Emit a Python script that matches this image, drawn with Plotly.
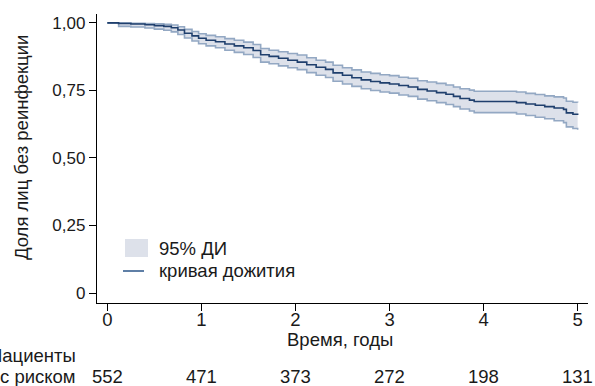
import plotly.graph_objects as go

# ---- data ----
times = [0, 0.12, 0.25, 0.4, 0.5, 0.6, 0.68, 0.75, 0.82, 0.9, 0.97, 1.05, 1.15, 1.25, 1.35,
         1.45, 1.55, 1.63, 1.72, 1.82, 1.92, 2.02, 2.12, 2.22, 2.32, 2.4, 2.5, 2.6, 2.7, 2.8,
         2.9, 3.0, 3.1, 3.2, 3.3, 3.4, 3.5, 3.6, 3.68, 3.75, 3.85, 3.9, 4.35, 4.45, 4.55,
         4.65, 4.75, 4.85, 4.88, 4.95, 5.0]
surv = [1.0, 0.998, 0.996, 0.993, 0.99, 0.987, 0.982, 0.974, 0.962, 0.952, 0.943, 0.936, 0.93,
        0.922, 0.915, 0.908, 0.898, 0.882, 0.876, 0.869, 0.862, 0.855, 0.845, 0.836, 0.828,
        0.815, 0.806, 0.797, 0.789, 0.783, 0.778, 0.774, 0.768, 0.763, 0.754, 0.748, 0.742,
        0.736, 0.728, 0.72, 0.714, 0.709, 0.705, 0.70, 0.695, 0.69, 0.685, 0.68, 0.667,
        0.662, 0.659]
ci_lower = [1.0, 0.987, 0.985, 0.981, 0.977, 0.973, 0.967, 0.957, 0.944, 0.933, 0.923, 0.915,
            0.908, 0.899, 0.891, 0.883, 0.872, 0.855, 0.849, 0.841, 0.834, 0.827, 0.816, 0.806,
            0.798, 0.784, 0.774, 0.765, 0.756, 0.75, 0.744, 0.74, 0.733, 0.728, 0.718, 0.712,
            0.705, 0.698, 0.69, 0.681, 0.674, 0.668, 0.663, 0.657, 0.651, 0.645, 0.638, 0.631,
            0.615, 0.609, 0.604]
ci_upper = [1.0, 1.0, 0.999, 0.998, 0.997, 0.995, 0.992, 0.986, 0.976, 0.968, 0.96, 0.954,
            0.949, 0.942, 0.936, 0.929, 0.92, 0.905, 0.899, 0.893, 0.887, 0.881, 0.871, 0.862,
            0.855, 0.843, 0.834, 0.826, 0.818, 0.813, 0.808, 0.805, 0.799, 0.795, 0.786, 0.781,
            0.776, 0.77, 0.763, 0.756, 0.751, 0.747, 0.744, 0.739, 0.735, 0.73, 0.726, 0.722,
            0.71, 0.706, 0.705]

x_ticks = [0, 1, 2, 3, 4, 5]
y_tickvals = [0, 0.25, 0.5, 0.75, 1.0]
y_ticktext = ["0", "0,25", "0,50", "0,75", "1,00"]
at_risk = [552, 471, 373, 272, 198, 131]
risk_title = ["Пациенты", "с риском"]
legend_labels = ["95% ДИ", "кривая дожития"]

# ---- layout geometry (pixels) ----
W, H = 595, 386
ML, MR, MT, MB = 97, 7, 14, 83
PW, PH = W - ML - MR, H - MT - MB

def px(x):
    return (x - ML) / PW

def py(y):
    return (H - MB - y) / PH

FONT = "Liberation Sans, Arial, sans-serif"
FS = 17
FS2 = 18.5
TXT = "#1a1a1a"
FILL = "#dde1ea"
EDGE = "#93a8c3"
MAIN = "#1f3f6d"

fig = go.Figure()
fig.add_trace(go.Scatter(x=times, y=ci_upper, mode="lines", line=dict(color=EDGE, width=1.6, shape="hv"),
                         showlegend=False, hoverinfo="skip"))
fig.add_trace(go.Scatter(x=times, y=ci_lower, mode="lines", line=dict(color=EDGE, width=1.6, shape="hv"),
                         fill="tonexty", fillcolor=FILL, showlegend=False, hoverinfo="skip"))
fig.add_trace(go.Scatter(x=times, y=surv, mode="lines", line=dict(color=MAIN, width=1.6, shape="hv"),
                         showlegend=False))

def txt(x, y, s, anchor, angle=0, xref="paper"):
    return dict(x=x, xref=xref, y=y, yref="paper", text=s, showarrow=False, textangle=angle,
                xanchor=anchor, yanchor="middle", font=dict(size=FS2, color=TXT, family=FONT))

annotations = []
for t, n in zip(x_ticks, at_risk):
    annotations.append(txt(t, py(376), str(n), "center", xref="x"))
annotations.append(txt(px(78), py(355), risk_title[0], "right"))
annotations.append(txt(px(78), py(376), risk_title[1], "right"))
annotations.append(txt(px(340), py(339), "Время, годы", "center"))
annotations.append(txt(px(21), py(148), "Доля лиц без реинфекции", "center", angle=-90))
annotations.append(txt(px(157), py(248), legend_labels[0], "left"))
annotations.append(txt(px(157), py(270), legend_labels[1], "left"))

shapes = [
    dict(type="rect", xref="paper", yref="paper", x0=px(125), x1=px(148), y0=py(257), y1=py(239),
         fillcolor=FILL, line=dict(width=0)),
    dict(type="line", xref="paper", yref="paper", x0=px(123), x1=px(144), y0=py(271), y1=py(271),
         line=dict(color="#5f7fa6", width=2)),
]

fig.update_layout(
    width=W, height=H,
    margin=dict(l=ML, r=MR, t=MT, b=MB),
    paper_bgcolor="white", plot_bgcolor="white",
    font=dict(family=FONT, size=FS, color=TXT),
    showlegend=False,
    annotations=annotations,
    shapes=shapes,
    xaxis=dict(range=[-0.11, 5.11], tickvals=x_ticks, ticktext=[str(v) for v in x_ticks],
               showgrid=False, zeroline=False, showline=True, linecolor="black", linewidth=1.3,
               ticks="outside", ticklen=7, tickwidth=1.3, tickcolor="black", ticklabelstandoff=-7,
               tickfont=dict(size=FS2, color=TXT, family=FONT)),
    yaxis=dict(range=[-0.037, 1.033], tickvals=y_tickvals, ticktext=y_ticktext,
               showgrid=False, zeroline=False, showline=True, linecolor="black", linewidth=1.3,
               ticks="outside", ticklen=7, tickwidth=1.3, tickcolor="black",
               tickfont=dict(size=FS, color=TXT, family=FONT)),
)

fig.write_html("out.html", config={"displayModeBar": False},
               post_script="document.body.style.margin='0px';document.body.style.overflow='hidden';")
